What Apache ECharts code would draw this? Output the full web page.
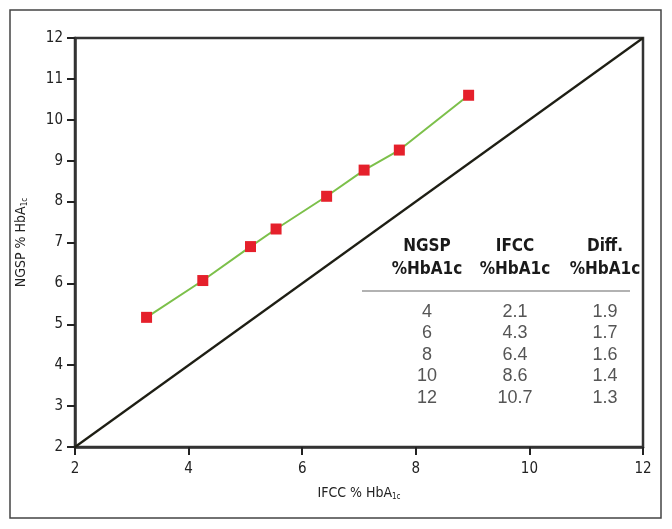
<!DOCTYPE html>
<html>
<head>
<meta charset="utf-8">
<script src="https://cdn.jsdelivr.net/npm/echarts@6/dist/echarts.min.js"></script>
<style>html,body{margin:0;padding:0;background:#fff}#c{width:672px;height:529px}</style>
</head>
<body>
<div id="c"></div>
<script>
// Data
const ifccPoints = [3.26, 4.25, 5.09, 5.54, 6.43, 7.09, 7.71, 8.93];
const ngspPoints = [5.17, 6.07, 6.90, 7.33, 8.13, 8.77, 9.26, 10.60];
const identityLine = [[2, 2], [12, 12]];
const xTicks = [2, 4, 6, 8, 10, 12];
const yTicks = [2, 3, 4, 5, 6, 7, 8, 9, 10, 11, 12];
const tableHeaders = [['NGSP', '%HbA1c'], ['IFCC', '%HbA1c'], ['Diff.', '%HbA1c']];
const tableNGSP = ['4', '6', '8', '10', '12'];
const tableIFCC = ['2.1', '4.3', '6.4', '8.6', '10.7'];
const tableDiff = ['1.9', '1.7', '1.6', '1.4', '1.3'];

const chart = echarts.init(document.getElementById('c'), null, {renderer: 'canvas'});
const axisFont = '"DejaVu Sans Condensed", "Liberation Sans Narrow", Roboto, sans-serif';

const graphics = [];
graphics.push({type: 'rect', shape: {x: 10, y: 10, width: 651, height: 508},
  style: {fill: 'none', stroke: '#444', lineWidth: 1.5}, z: 0});

const colX = [427, 515, 605];
tableHeaders.forEach((h, i) => {
  graphics.push({type: 'text', x: colX[i], y: 247, style: {text: h[0], align: 'center', verticalAlign: 'middle',
    font: 'bold 17px ' + axisFont, fill: '#1a1a1a'}});
  graphics.push({type: 'text', x: colX[i], y: 270, style: {text: h[1], align: 'center', verticalAlign: 'middle',
    font: 'bold 17px ' + axisFont, fill: '#1a1a1a'}});
});
graphics.push({type: 'line', shape: {x1: 362, y1: 291, x2: 630, y2: 291}, style: {stroke: '#999', lineWidth: 1.5}});
const cols = [tableNGSP, tableIFCC, tableDiff];
cols.forEach((col, i) => {
  col.forEach((v, r) => {
    graphics.push({type: 'text', x: colX[i], y: 312 + r * 21.5, style: {text: v, align: 'center', verticalAlign: 'middle',
      font: '18px "Liberation Sans", Arial, sans-serif', fill: '#555'}});
  });
});

chart.setOption({
  animation: false,
  backgroundColor: '#fff',
  grid: {left: 75, top: 38, right: 29, bottom: 82, show: true, borderColor: '#333', borderWidth: 2.5, containLabel: false},
  xAxis: {
    type: 'value', min: 2, max: 12, interval: 2,
    name: '{a|IFCC % HbA}{s|1c}', nameLocation: 'middle', nameGap: 38,
    nameTextStyle: {rich: {a: {fontFamily: axisFont, fontSize: 14, color: '#222'}, s: {fontFamily: axisFont, fontSize: 8, color: '#222', padding: [8, 0, 0, 0]}}},
    axisLine: {lineStyle: {color: '#333', width: 2.5}},
    axisTick: {length: 8, lineStyle: {color: '#222', width: 2}},
    axisLabel: {fontFamily: axisFont, fontSize: 15, color: '#222', margin: 15},
    splitLine: {show: false}
  },
  yAxis: {
    type: 'value', min: 2, max: 12, interval: 1,
    name: '{a|NGSP % HbA}{s|1c}', nameLocation: 'middle', nameGap: 46, nameRotate: 90,
    nameTextStyle: {rich: {a: {fontFamily: axisFont, fontSize: 14, color: '#222'}, s: {fontFamily: axisFont, fontSize: 8, color: '#222', padding: [8, 0, 0, 0]}}},
    axisLine: {lineStyle: {color: '#333', width: 2.5}},
    axisTick: {length: 8, lineStyle: {color: '#222', width: 2}},
    axisLabel: {fontFamily: axisFont, fontSize: 15, color: '#222', margin: 12},
    splitLine: {show: false}
  },
  series: [
    {type: 'line', data: identityLine, symbol: 'none', lineStyle: {color: '#1e1e14', width: 2.2}, z: 2},
    {type: 'line', data: ifccPoints.map((x, i) => [x, ngspPoints[i]]), symbol: 'rect', symbolSize: 11,
      itemStyle: {color: '#e5202b'}, lineStyle: {color: '#7cc04a', width: 2}, z: 3}
  ],
  graphic: graphics
});
</script>
</body>
</html>
